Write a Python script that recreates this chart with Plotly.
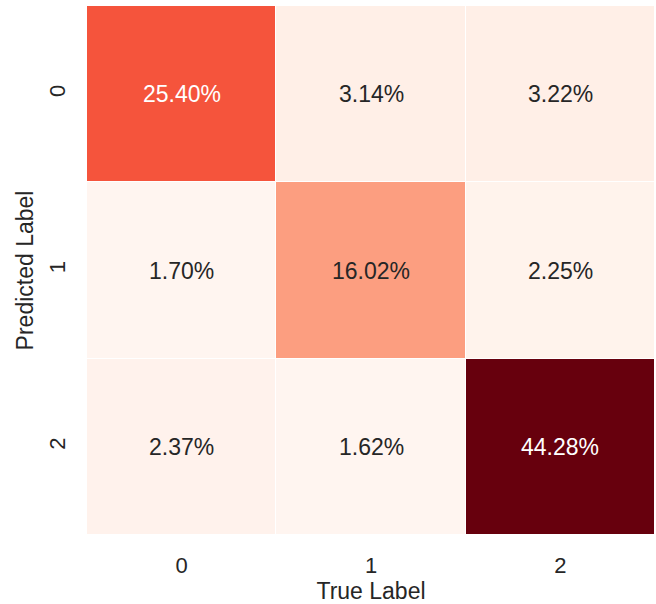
import plotly.graph_objects as go
import plotly.colors as pc

labels = ["0", "1", "2"]
values = [
    [25.40, 3.14, 3.22],
    [1.70, 16.02, 2.25],
    [2.37, 1.62, 44.28],
]
text_light = [
    [True, False, False],
    [False, False, False],
    [False, False, True],
]

reds = pc.sequential.Reds
n = len(reds)
colorscale = [[i / (n - 1), c] for i, c in enumerate(reds)]

FONT = "Liberation Sans, Arial, sans-serif"

fig = go.Figure(
    go.Heatmap(
        z=values,
        x=labels,
        y=labels,
        colorscale=colorscale,
        showscale=False,
        xgap=1,
        ygap=1,
        hoverinfo="skip",
    )
)

for i, row in enumerate(values):
    for j, v in enumerate(row):
        fig.add_annotation(
            x=labels[j], y=labels[i], text=f"{v:.2f}%", showarrow=False,
            font=dict(size=23, color="white" if text_light[i][j] else "#262626",
                      family=FONT),
        )

fig.update_layout(
    width=656, height=604,
    margin=dict(l=87, r=1, t=6, b=69),
    paper_bgcolor="white", plot_bgcolor="white",
    font=dict(family=FONT, color="#262626", size=22),
    xaxis=dict(title=dict(text="True Label", font=dict(size=23), standoff=2),
               showgrid=False, zeroline=False, ticks="", tickfont=dict(size=22),
               ticklabelstandoff=15),
    yaxis=dict(title=dict(text="Predicted Label", font=dict(size=23), standoff=4),
               autorange="reversed", showgrid=False, zeroline=False, ticks="",
               tickangle=-90, tickfont=dict(size=22), ticklabelstandoff=17),
)

fig.write_html("out.html")
